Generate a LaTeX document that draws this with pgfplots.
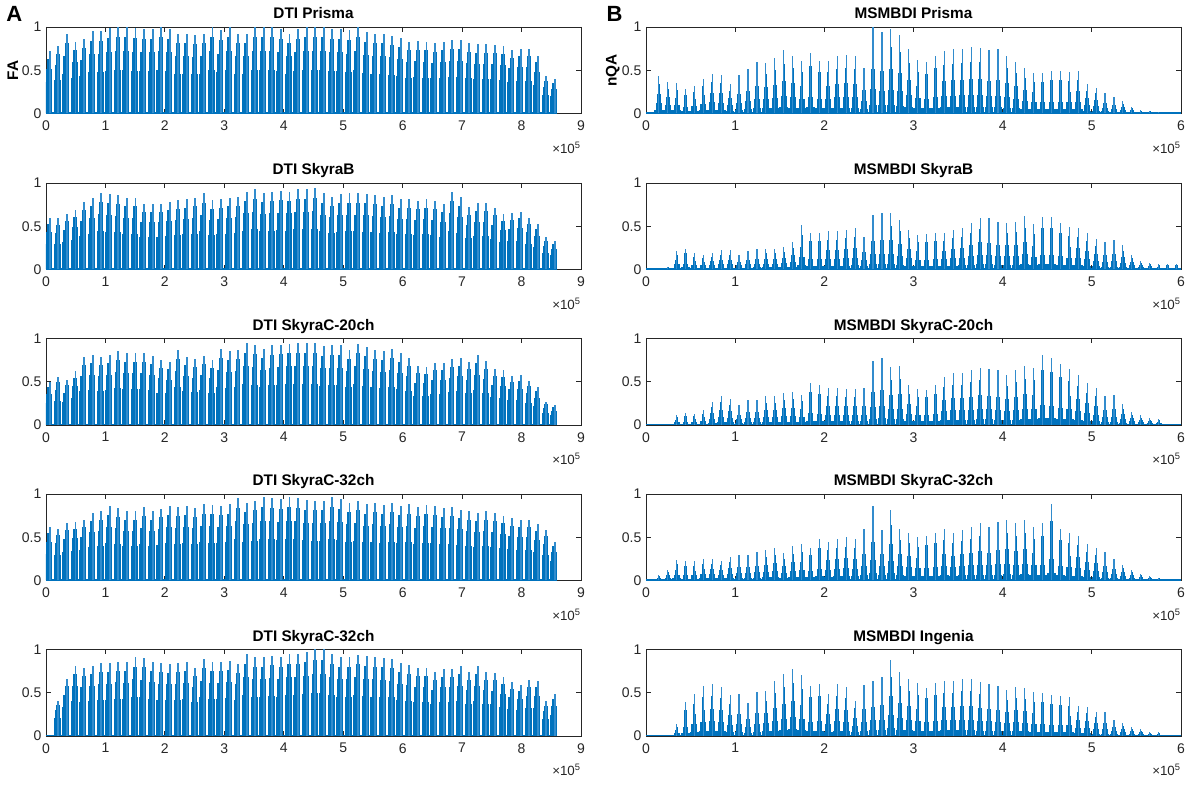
\documentclass[border=0pt]{standalone}
\usepackage{fontspec}
\setmainfont{Liberation Sans}
\usepackage{pgfplots}
\pgfplotsset{compat=1.18}
\usepackage{pgfplotstable}

\definecolor{mblue}{RGB}{0,114,189}
\definecolor{mlight}{RGB}{50,140,205}
\definecolor{mgray}{RGB}{38,38,38}

% DTI panels: group position and peak FA of each group
\pgfplotstableread{
x a1 a2 a3 a4 a5
4500 0.72 0.60 0.50 0.62 0
18900 0.78 0.59 0.56 0.60 0.41
33300 0.92 0.64 0.52 0.66 0.66
47700 0.83 0.69 0.62 0.68 0.81
62100 0.86 0.78 0.79 0.70 0.79
76500 0.95 0.83 0.81 0.78 0.81
90900 0.95 0.89 0.79 0.80 0.84
105300 0.99 0.87 0.81 0.86 0.84
119700 1.00 0.86 0.85 0.84 0.86
134100 1.00 0.83 0.83 0.80 0.85
148500 0.99 0.83 0.83 0.80 0.91
162900 0.98 0.76 0.83 0.85 0.90
177300 0.98 0.76 0.80 0.80 0.86
191700 1.00 0.76 0.75 0.83 0.84
206100 0.98 0.78 0.73 0.86 0.83
220500 0.92 0.80 0.87 0.85 0.84
234900 0.92 0.81 0.79 0.86 0.85
249300 0.91 0.83 0.76 0.84 0.79
263700 0.92 0.88 0.80 0.88 0.89
278100 1.00 0.80 0.75 0.87 0.85
292500 0.96 0.81 0.88 0.86 0.85
306900 1.00 0.83 0.85 0.88 0.87
321300 0.92 0.84 0.87 0.95 0.83
335700 0.92 0.90 0.95 0.90 0.95
350100 1.00 0.93 0.93 0.92 0.91
364500 1.00 0.89 0.88 0.96 0.91
378900 1.00 0.90 0.92 0.95 0.93
393300 0.98 0.91 0.93 0.94 0.91
407700 0.92 0.90 0.94 0.96 0.95
422100 0.98 0.93 0.95 0.95 0.95
436500 1.00 0.93 0.95 0.93 0.97
450900 1.00 0.94 0.95 0.92 1.00
465300 1.00 0.88 0.91 0.92 1.00
479700 0.98 0.84 0.92 0.96 0.95
494100 0.98 0.87 0.92 0.94 0.91
508500 0.96 0.88 0.87 0.90 0.91
522900 1.00 0.88 0.94 0.92 0.94
537300 0.94 0.87 0.90 0.88 0.92
551700 0.92 0.86 0.87 0.90 0.91
566100 0.92 0.84 0.85 0.87 0.90
580500 0.90 0.86 0.88 0.90 0.89
594900 0.87 0.81 0.83 0.86 0.84
609300 0.83 0.81 0.78 0.88 0.82
623700 0.84 0.79 0.68 0.85 0.79
638100 0.83 0.81 0.67 0.87 0.79
652500 0.81 0.79 0.72 0.86 0.74
666900 0.83 0.76 0.72 0.84 0.78
681300 0.85 0.90 0.76 0.85 0.78
695700 0.85 0.84 0.78 0.82 0.81
710100 0.81 0.72 0.73 0.80 0.74
724500 0.80 0.77 0.81 0.78 0.81
738900 0.80 0.77 0.74 0.80 0.74
753300 0.79 0.71 0.65 0.78 0.73
767700 0.78 0.64 0.63 0.75 0.68
782100 0.73 0.65 0.57 0.72 0.62
796500 0.75 0.67 0.58 0.70 0.59
810900 0.75 0.60 0.51 0.70 0.65
825300 0.67 0.53 0.44 0.65 0.64
839700 0.43 0.38 0.27 0.58 0.40
854100 0.40 0.33 0.23 0.45 0.48
}\dti

% MSMBDI panels: group position and peak nQA of each group
\pgfplotstableread{
x b1 b2 b3 b4 b5
14300 0.43 0 0 0.06 0
24300 0.36 0.03 0 0.12 0
34300 0.35 0.21 0.12 0.24 0.14
44300 0.28 0.24 0.14 0.22 0.39
54300 0.32 0.19 0.13 0.22 0.48
64400 0.40 0.17 0.17 0.25 0.58
74400 0.46 0.19 0.26 0.25 0.60
84400 0.45 0.22 0.34 0.23 0.57
94400 0.34 0.22 0.30 0.27 0.47
104400 0.44 0.17 0.23 0.30 0.49
114400 0.51 0.21 0.29 0.30 0.38
124400 0.60 0.24 0.29 0.33 0.51
134400 0.58 0.24 0.33 0.35 0.52
144400 0.64 0.24 0.33 0.38 0.63
154400 0.73 0.26 0.37 0.32 0.72
164500 0.67 0.32 0.38 0.40 0.78
174500 0.61 0.51 0.35 0.42 0.70
184500 0.70 0.42 0.49 0.38 0.58
194500 0.61 0.42 0.46 0.48 0.60
204500 0.61 0.44 0.43 0.45 0.48
214500 0.66 0.44 0.43 0.48 0.60
224500 0.68 0.46 0.42 0.50 0.57
234500 0.66 0.48 0.42 0.48 0.41
244500 0.53 0.38 0.43 0.60 0.59
254500 1.00 0.63 0.74 0.86 0.64
264600 0.94 0.65 0.77 0.58 0.68
274600 0.98 0.65 0.67 0.82 0.88
284600 0.91 0.57 0.68 0.60 0.74
294600 0.75 0.46 0.46 0.55 0.66
304600 0.62 0.40 0.42 0.50 0.61
314600 0.59 0.41 0.41 0.52 0.56
324600 0.67 0.42 0.46 0.55 0.61
334600 0.72 0.42 0.56 0.60 0.64
344600 0.74 0.46 0.60 0.55 0.64
354600 0.75 0.48 0.60 0.58 0.66
364700 0.77 0.54 0.63 0.62 0.66
374700 0.76 0.60 0.66 0.66 0.62
384700 0.73 0.59 0.65 0.62 0.60
394700 0.74 0.55 0.63 0.68 0.58
404700 0.67 0.54 0.58 0.70 0.53
414700 0.60 0.55 0.63 0.66 0.57
424700 0.53 0.62 0.68 0.70 0.55
434700 0.47 0.53 0.66 0.62 0.51
444700 0.47 0.61 0.81 0.66 0.50
454700 0.49 0.61 0.78 0.88 0.47
464800 0.49 0.54 0.71 0.60 0.46
474800 0.48 0.49 0.65 0.55 0.45
484800 0.49 0.48 0.58 0.52 0.35
494800 0.34 0.42 0.48 0.42 0.34
504800 0.30 0.35 0.43 0.38 0.28
514800 0.24 0.32 0.33 0.33 0.28
524800 0.19 0.34 0.35 0.25 0.19
534800 0.14 0.28 0.24 0.18 0.15
544800 0.08 0.17 0.15 0.12 0.10
554800 0.04 0.10 0.11 0.08 0.08
564900 0.03 0.08 0.08 0.05 0.05
574900 0.02 0.06 0.07 0.03 0.05
584900 0 0.06 0 0 0
594900 0 0.06 0 0 0
}\msm

\pgfplotsset{
  panel/.style={
    scale only axis, width=401.25pt, height=64.875pt, anchor=south west,
    xmin=0, ymin=0, ymax=1, ytick={0,0.5,1},
    scaled x ticks=false, clip mode=individual,
    tick align=inside, major tick length=3.6pt,
    axis line style={mgray, line width=0.6pt},
    tick style={mgray, line width=0.6pt},
    ticklabel style={font=\fontsize{10.5}{12}\selectfont, text=mgray},
    xticklabel style={yshift=-2pt},
    /pgf/number format/assume math mode=true,
    title style={font=\bfseries\fontsize{11.5}{13}\selectfont, at={(0.5,1)}, anchor=base},
    ylabel style={font=\bfseries\fontsize{11.5}{13}\selectfont, at={(axis description cs:-0.062,0.5)}, anchor=center},
    after end axis/.code={
      \node[anchor=north east, inner sep=0pt, yshift=-21pt, text=mgray,
            font=\fontsize{10}{12}\selectfont] at (rel axis cs:1,0) {×10\textsuperscript{5}};
    },
  },
  dti/.style={panel, xmax=900000,
    xtick={0,100000,200000,300000,400000,500000,600000,700000,800000,900000},
    xticklabels={0,1,2,3,4,5,6,7,8,9}},
  msm/.style={panel, xmax=600000,
    xtick={0,100000,200000,300000,400000,500000,600000},
    xticklabels={0,1,2,3,4,5,6}},
}

% each DTI group: a dense ramp that climbs to its peak on the right
\newcommand{\dtispikes}[1]{%
  \addplot[mblue, line width=1.6pt] coordinates {(0,0) (860000,0)};
  \addplot[ycomb, mblue, line width=5.2pt] table[x=x, y expr=0.5*\thisrow{#1}] {\dti};
  \addplot[ycomb, mblue, line width=4.2pt] table[x expr=\thisrow{x}+600, y expr=0.72*\thisrow{#1}] {\dti};
  \addplot[ycomb, mblue, line width=3.0pt] table[x expr=\thisrow{x}+1300, y expr=0.88*\thisrow{#1}] {\dti};
  \addplot[ycomb, mlight, line width=1.4pt] table[x expr=\thisrow{x}+2000, y=#1] {\dti};
}
% each MSMBDI group: a narrow peak on a wide triangular base
\newcommand{\msmspikes}[1]{%
  \addplot[mblue, line width=1.6pt] coordinates {(0,0) (600000,0)};
  \addplot[ycomb, mblue, line width=6.4pt] table[x=x, y expr=0.1*\thisrow{#1}] {\msm};
  \addplot[ycomb, mblue, line width=4.4pt] table[x=x, y expr=0.28*\thisrow{#1}] {\msm};
  \addplot[ycomb, mblue, line width=2.8pt] table[x=x, y expr=0.52*\thisrow{#1}] {\msm};
  \addplot[ycomb, mblue, line width=1.6pt] table[x=x, y expr=0.78*\thisrow{#1}] {\msm};
  \addplot[ycomb, mlight, line width=0.9pt] table[x=x, y=#1] {\msm};
}

\begin{document}
\begin{tikzpicture}
\useasboundingbox (0,0) rectangle (900pt,590.25pt);

\begin{axis}[dti, at={(34.5pt,505.125pt)}, title={DTI Prisma}, ylabel={FA}]
\dtispikes{a1}
\end{axis}
\begin{axis}[dti, at={(34.5pt,388.125pt)}, title={DTI SkyraB}]
\dtispikes{a2}
\end{axis}
\begin{axis}[dti, at={(34.5pt,271.5pt)}, title={DTI SkyraC-20ch}]
\dtispikes{a3}
\end{axis}
\begin{axis}[dti, at={(34.5pt,154.875pt)}, title={DTI SkyraC-32ch}]
\dtispikes{a4}
\end{axis}
\begin{axis}[dti, at={(34.5pt,38.25pt)}, title={DTI SkyraC-32ch}]
\dtispikes{a5}
\end{axis}

\begin{axis}[msm, at={(484.5pt,505.125pt)}, title={MSMBDI Prisma}, ylabel={nQA}]
\msmspikes{b1}
\end{axis}
\begin{axis}[msm, at={(484.5pt,388.125pt)}, title={MSMBDI SkyraB}]
\msmspikes{b2}
\end{axis}
\begin{axis}[msm, at={(484.5pt,271.5pt)}, title={MSMBDI SkyraC-20ch}]
\msmspikes{b3}
\end{axis}
\begin{axis}[msm, at={(484.5pt,154.875pt)}, title={MSMBDI SkyraC-32ch}]
\msmspikes{b4}
\end{axis}
\begin{axis}[msm, at={(484.5pt,38.25pt)}, title={MSMBDI Ingenia}]
\msmspikes{b5}
\end{axis}

\node[font=\bfseries\fontsize{16.5}{18}\selectfont] at (10.8pt,579.5pt) {A};
\node[font=\bfseries\fontsize{16.5}{18}\selectfont] at (460.9pt,579.5pt) {B};
\end{tikzpicture}
\end{document}
